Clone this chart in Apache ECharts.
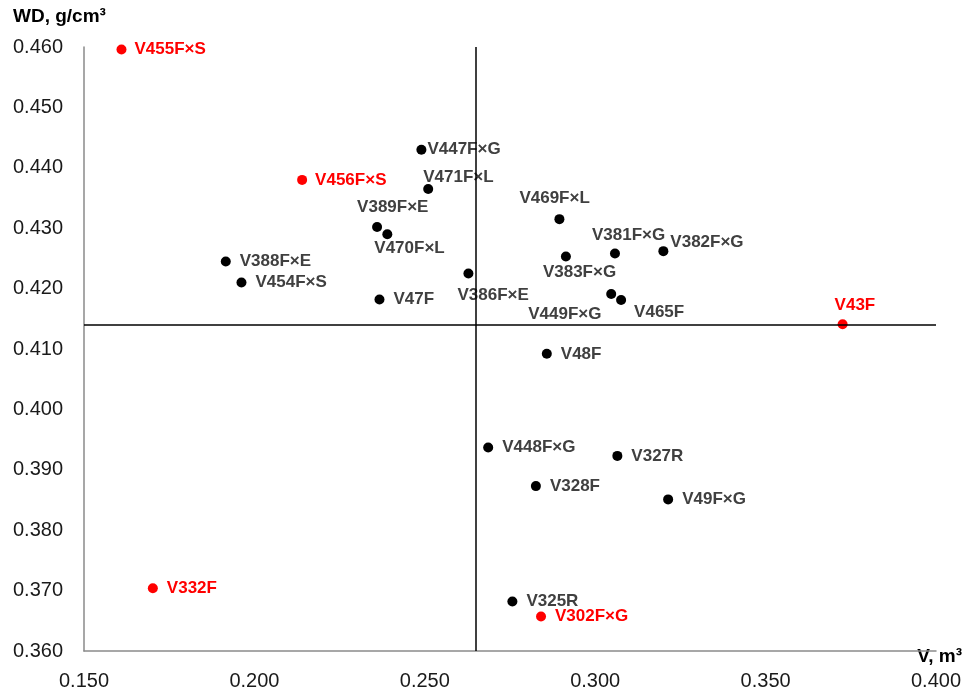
<!DOCTYPE html>
<html>
<head>
<meta charset="utf-8">
<script src="https://cdn.jsdelivr.net/npm/echarts@6/dist/echarts.min.js"></script>
<style>
html,body{margin:0;padding:0;background:#fff;}
#chart{width:970px;height:691px;}
</style>
</head>
<body>
<div id="chart"></div>
<script>
// ---- data ----
const names = ['V455F×S','V456F×S','V447F×G','V471F×L','V389F×E','V470F×L','V388F×E','V454F×S','V47F','V386F×E',
  'V469F×L','V381F×G','V382F×G','V383F×G','V449F×G','V465F','V43F','V48F','V448F×G','V327R','V328F','V49F×G',
  'V332F','V325R','V302F×G'];
const volume = [0.161,0.214,0.249,0.251,0.236,0.239,0.1916,0.1962,0.2367,0.2628,
  0.2895,0.3058,0.320,0.2914,0.3047,0.3076,0.3726,0.2858,0.2686,0.3065,0.2826,0.3214,
  0.1702,0.2757,0.2841];
const density = [0.4596,0.438,0.443,0.4365,0.4302,0.429,0.4245,0.421,0.4182,0.4225,
  0.4315,0.4258,0.4262,0.4253,0.4191,0.4181,0.4141,0.4092,0.3937,0.3923,0.3873,0.3851,
  0.3704,0.3682,0.3657];
const redNames = ['V455F×S','V456F×S','V43F','V332F','V302F×G'];
const meanVolume = 0.265;
const meanDensity = 0.414;
const xTicks = [0.150,0.200,0.250,0.300,0.350,0.400];
const yTicks = [0.360,0.370,0.380,0.390,0.400,0.410,0.420,0.430,0.440,0.450,0.460];

// ---- label layout (pixel offsets of label left edge / vertical centre from point) ----
const labelOffsets = {
  'V455F×S':[13,0],'V456F×S':[13,0],'V447F×G':[6,0],'V471F×L':[-5,-12],'V389F×E':[-20,-20],
  'V470F×L':[-13,14],'V386F×E':[-11,22],'V469F×L':[-40,-21],'V381F×G':[-23,-18],'V382F×G':[7,-9],
  'V383F×G':[-23,16],'V449F×G':[-83,20],'V465F':[13,12],'V43F':[-8,-19]
};
const SYM = 10;

const seriesData = names.map((n,i)=>{
  const red = redNames.indexOf(n) >= 0;
  const off = labelOffsets[n] || [14,0];
  return {
    name: n,
    value: [volume[i], density[i]],
    itemStyle: {color: red ? '#ff0000' : '#000000', opacity: 1},
    label: {
      show: true,
      formatter: n,
      position: [SYM/2 + off[0], SYM/2 + off[1]],
      align: 'left',
      verticalAlign: 'middle',
      color: red ? '#ff0000' : '#404040',
      fontFamily: 'Liberation Sans, Arial, sans-serif',
      fontWeight: 'bold',
      fontSize: 17
    }
  };
});

const chart = echarts.init(document.getElementById('chart'), null, {renderer:'canvas'});
chart.setOption({
  animation: false,
  backgroundColor: '#ffffff',
  grid: {left: 84, right: 34, top: 47, bottom: 40, containLabel: false},
  xAxis: {
    type: 'value',
    min: xTicks[0], max: xTicks[xTicks.length-1], interval: 0.05,
    axisLine: {show: true, lineStyle: {color: '#8a8a8a', width: 1.5}},
    axisTick: {show: false},
    splitLine: {show: false},
    axisLabel: {margin: 20, color: '#1a1a1a', fontSize: 20, fontFamily: 'Liberation Sans, Arial, sans-serif',
      formatter: v => v.toFixed(3)}
  },
  yAxis: {
    type: 'value',
    min: yTicks[0], max: yTicks[yTicks.length-1], interval: 0.01,
    axisLine: {show: true, onZero: false, lineStyle: {color: '#8a8a8a', width: 1.5}},
    axisTick: {show: false},
    splitLine: {show: false},
    axisLabel: {margin: 21, color: '#1a1a1a', fontSize: 20, fontFamily: 'Liberation Sans, Arial, sans-serif',
      formatter: v => v.toFixed(3)}
  },
  graphic: [
    {type: 'text', left: 13, top: 7, style: {text: 'WD, g/cm³', fontSize: 19, fontWeight: 'bold',
      fontFamily: 'Liberation Sans, Arial, sans-serif', fill: '#000'}},
    {type: 'text', right: 8, top: 647, style: {text: 'V, m³', fontSize: 19, fontWeight: 'bold',
      fontFamily: 'Liberation Sans, Arial, sans-serif', fill: '#000'}}
  ],
  series: [{
    type: 'scatter',
    symbol: 'circle',
    symbolSize: SYM,
    data: seriesData,
    emphasis: {disabled: true},
    labelLayout: {hideOverlap: false},
    markLine: {
      silent: true,
      precision: 4,
      symbol: ['none','none'],
      label: {show: false},
      lineStyle: {color: '#000', width: 1.5, type: 'solid', opacity: 1},
      emphasis: {disabled: true},
      data: [{xAxis: meanVolume}, {yAxis: meanDensity}]
    },
    z: 3
  }]
});
</script>
</body>
</html>
